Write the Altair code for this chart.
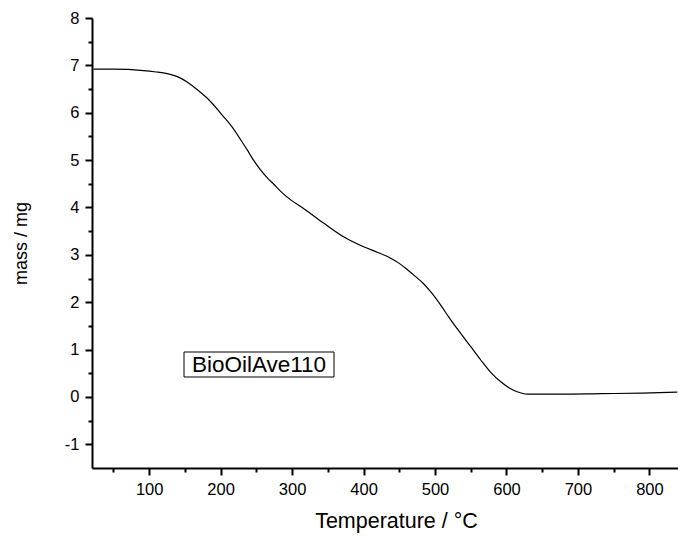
import altair as alt
import pandas as pd

temperature = [22, 50, 92, 110, 120, 132, 144, 153, 162, 181, 204, 216, 228, 237,
               246, 255, 265, 275, 284, 298, 316, 344, 372, 400, 420, 438, 450,
               461, 472, 484, 495, 507, 520, 536, 550, 564, 578, 592, 604, 615,
               629, 650, 676, 732, 790, 839]
mass = [6.92, 6.92, 6.89, 6.86, 6.84, 6.80, 6.73, 6.65, 6.55, 6.31, 5.92, 5.70,
        5.43, 5.22, 5.00, 4.81, 4.63, 4.48, 4.34, 4.16, 3.98, 3.67, 3.38, 3.17,
        3.05, 2.93, 2.82, 2.69, 2.55, 2.39, 2.20, 1.96, 1.67, 1.34, 1.06, 0.78,
        0.52, 0.32, 0.19, 0.11, 0.06, 0.06, 0.06, 0.07, 0.08, 0.10]

x_major = [100, 200, 300, 400, 500, 600, 700, 800]
x_minor = [50, 150, 250, 350, 450, 550, 650, 750]
y_major = [-1, 0, 1, 2, 3, 4, 5, 6, 7, 8]
y_minor = [-0.5, 0.5, 1.5, 2.5, 3.5, 4.5, 5.5, 6.5, 7.5]
label_text = "BioOilAve110"

df = pd.DataFrame({"T": temperature, "m": mass})

FONT = "Liberation Sans"
xscale = alt.Scale(domain=[20, 840], nice=False, zero=False)
yscale = alt.Scale(domain=[-1.5, 8], nice=False, zero=False)

common_axis = dict(domainColor="black", tickColor="black", labelColor="black",
                   titleColor="black", labelFont=FONT, titleFont=FONT,
                   grid=False, tickWidth=2, domainWidth=2,
                   titleFontWeight="normal")

line = alt.Chart(df).mark_line(color="black", strokeWidth=1.2,
                               interpolate="monotone").encode(
    x=alt.X("T:Q", scale=xscale,
            axis=alt.Axis(orient="bottom", values=x_major, tickSize=7,
                          labelFontSize=16.5, labelPadding=6,
                          title="Temperature / °C", titleFontSize=21.5,
                          titlePadding=13, titleX=304, **common_axis)),
    y=alt.Y("m:Q", scale=yscale,
            axis=alt.Axis(orient="left", values=y_major, tickSize=7,
                          labelFontSize=16.5, labelPadding=6,
                          labelExpr="datum.value < 0 ? '-' + abs(datum.value) : datum.label",
                          title="mass / mg", titleFontSize=18,
                          titlePadding=34, **common_axis)),
)

minor = alt.Chart(df).mark_line(opacity=0).encode(
    x=alt.X("T:Q", scale=xscale,
            axis=alt.Axis(orient="bottom", values=x_minor, tickSize=4,
                          labels=False, domain=False, title=None,
                          **common_axis)),
    y=alt.Y("m:Q", scale=yscale,
            axis=alt.Axis(orient="left", values=y_minor, tickSize=4,
                          labels=False, domain=False, title=None,
                          **common_axis)),
)

box_df = pd.DataFrame({"label": [label_text]})
box = alt.Chart(box_df).mark_rect(fill="white", stroke="black",
                                  strokeWidth=1).encode(
    x=alt.value(92), x2=alt.value(242), y=alt.value(334), y2=alt.value(359))
text = alt.Chart(box_df).mark_text(font=FONT, fontSize=22.5, color="black",
                                   align="center", baseline="middle").encode(
    x=alt.value(167), y=alt.value(347), text="label:N")

chart = alt.layer(line, minor, box, text).resolve_axis(
    x="independent", y="independent"
).properties(
    width=586, height=450,
    padding={"left": 92, "top": 18, "right": 0, "bottom": 75},
    autosize="none", background="white"
).configure_view(stroke=None)

chart.save("out.html", embed_options={"renderer": "svg", "actions": False})
